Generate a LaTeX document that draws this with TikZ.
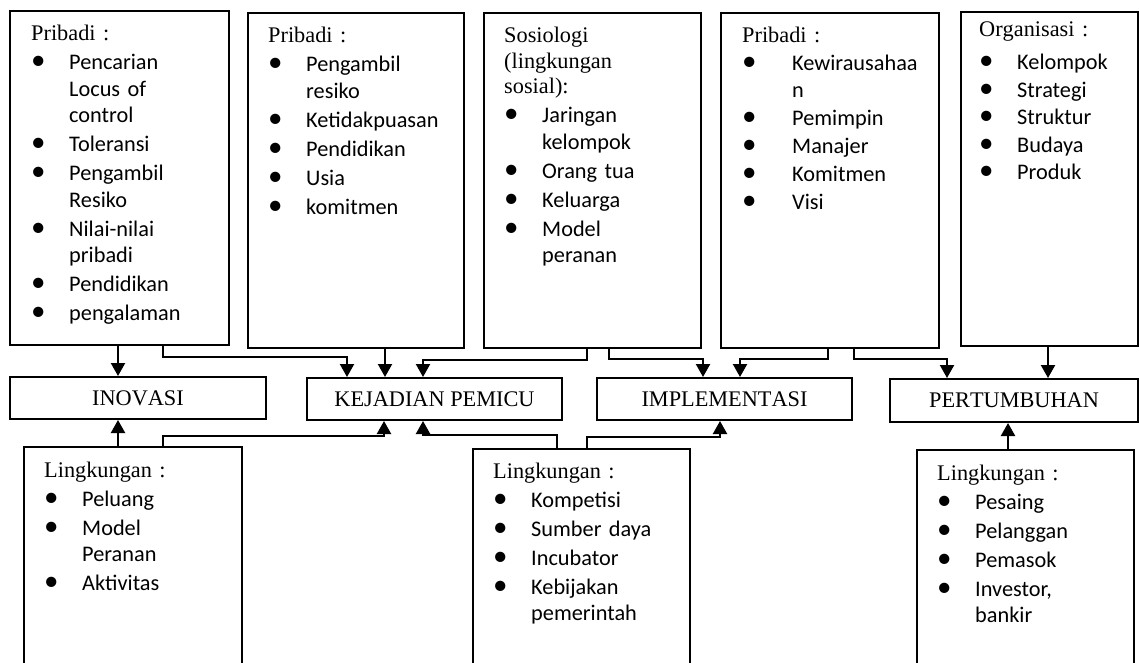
\documentclass[tikz,border=0pt]{standalone}
\usepackage{fontspec}
\setmainfont[Kerning=Off]{Liberation Serif}
\newfontfamily\itemfont{Carlito}
\usetikzlibrary{arrows.meta}
\newlength{\itemgap}\setlength{\itemgap}{2.5pt}
\newcommand{\bit}[2][38pt]{\par\vspace{\itemgap}{\itemfont\fontsize{22.3}{26.5}\selectfont\noindent\hangindent=#1\hangafter=1\makebox[#1][l]{\hspace{0pt}{\fontsize{29}{26}\selectfont\textbullet}}#2\par}}
\tikzset{
  tbox/.style={draw, line width=2pt, inner sep=0pt, anchor=north west},
  lbl/.style={draw, line width=2pt, inner sep=0pt, anchor=north west, font=\fontsize{22.3}{26}\selectfont},
  txt/.style={anchor=base west, inner sep=0pt, text width=300pt, align=left, font=\fontsize{22.3}{25.5}\selectfont},
  arr/.style={line width=2.2pt, -{Triangle[width=14pt,length=13pt]}}
}
\begin{document}
\begin{tikzpicture}[x=1pt,y=-1pt]
\useasboundingbox (0,0) rectangle (1139,663);
\clip (0,0) rectangle (1139,663);
\fill[white] (0,0) rectangle (1139,663);
% top boxes
\node[tbox, minimum width=219pt, minimum height=334pt] (b1) at (9,10) {};
\node[tbox, minimum width=216pt, minimum height=335pt] (b2) at (247,12) {};
\node[tbox, minimum width=217pt, minimum height=335pt] (b3) at (483,12) {};
\node[tbox, minimum width=218pt, minimum height=335pt] (b4) at (720,12) {};
\node[tbox, minimum width=177pt, minimum height=334pt] (b5) at (960,11) {};
% texts of top boxes
\node[txt] (t1) at (31,41) {Pribadi :
 \bit{Pencarian\newline Locus of\newline control}
 \bit{Toleransi}
 \bit{Pengambil\newline Resiko}
 \bit{Nilai-nilai\newline pribadi}
 \bit{Pendidikan}
 \bit{pengalaman}};
\node[txt] (t2) at (268,43) {Pribadi :
 \bit{Pengambil\newline resiko}
 \bit{Ketidakpuasan}
 \bit{Pendidikan}
 \bit{Usia}
 \bit{komitmen}};
\node[txt] (t3) at (504,43) {Sosiologi\newline (lingkungan\newline sosial):
 \bit{Jaringan\newline kelompok}
 \bit{Orang tua}
 \bit{Keluarga}
 \bit{Model\newline peranan}};
\node[txt] (t4) at (742,43) {\setlength{\itemgap}{1.5pt}Pribadi :
 \bit[50pt]{\hspace{0pt}Kewirausahaa\newline n}
 \bit[50pt]{Pemimpin}
 \bit[50pt]{Manajer}
 \bit[50pt]{Komitmen}
 \bit[50pt]{Visi}};
\node[txt] (t5) at (979,37) {Organisasi :\par\vspace{5.5pt}\setlength{\itemgap}{1pt}%
 \bit{Kelompok}
 \bit{Strategi}
 \bit{Struktur}
 \bit{Budaya}
 \bit{Produk}};
% middle boxes
\node[lbl, minimum width=256pt, minimum height=42pt] (inov) at (9,376) {INOVASI};
\node[lbl, minimum width=255pt, minimum height=42pt] (kej) at (306,377) {KEJADIAN PEMICU};
\node[lbl, minimum width=255pt, minimum height=42pt] (impl) at (596,377) {IMPLEMENTASI};
\node[lbl, minimum width=248pt, minimum height=43pt] (pert) at (889,378) {PERTUMBUHAN};
% bottom boxes
\node[tbox, minimum width=218pt, minimum height=260pt] (l1) at (23,446) {};
\node[tbox, minimum width=217pt, minimum height=260pt] (l2) at (472,448) {};
\node[tbox, minimum width=217pt, minimum height=260pt] (l3) at (916,449) {};
\node[txt] (s1) at (44,477) {Lingkungan :
 \bit{Peluang}
 \bit{Model\newline Peranan}
 \bit{Aktivitas}};
\node[txt] (s2) at (493,478) {Lingkungan :
 \bit{Kompetisi}
 \bit{Sumber daya}
 \bit{Incubator}
 \bit{Kebijakan\newline pemerintah}};
\node[txt] (s3) at (937,480) {Lingkungan :
 \bit{Pesaing}
 \bit{Pelanggan}
 \bit{Pemasok}
 \bit{Investor,\newline bankir}};
% connectors from top
\draw[arr] (118,0 |- b1.south) -- (118,0 |- inov.north);
\draw[arr] (163,0 |- b1.south) -- (163,357) -| (347,0 |- kej.north);
\draw[arr] (385,0 |- b2.south) -- (385,0 |- kej.north);
\draw[arr] (587,0 |- b3.south) -- (587,360) -| (423,0 |- kej.north);
\draw[arr] (609,0 |- b3.south) -- (609,359) -| (703,0 |- impl.north);
\draw[arr] (828,0 |- b4.south) -- (828,359) -| (740,0 |- impl.north);
\draw[arr] (854,0 |- b4.south) -- (854,359) -| (947,0 |- pert.north);
\draw[arr] (1048,0 |- b5.south) -- (1048,0 |- pert.north);
% connectors from bottom
\draw[arr] (118,0 |- l1.north) -- (118,0 |- inov.south);
\draw[arr] (163,0 |- l1.north) -- (163,436) -| (384,0 |- kej.south);
\draw[arr] (557,0 |- l2.north) -- (557,435) -| (423,0 |- kej.south);
\draw[arr] (587,0 |- l2.north) -- (587,437) -| (720,0 |- impl.south);
\draw[arr] (1008,0 |- l3.north) -- (1008,0 |- pert.south);
\end{tikzpicture}
\end{document}
